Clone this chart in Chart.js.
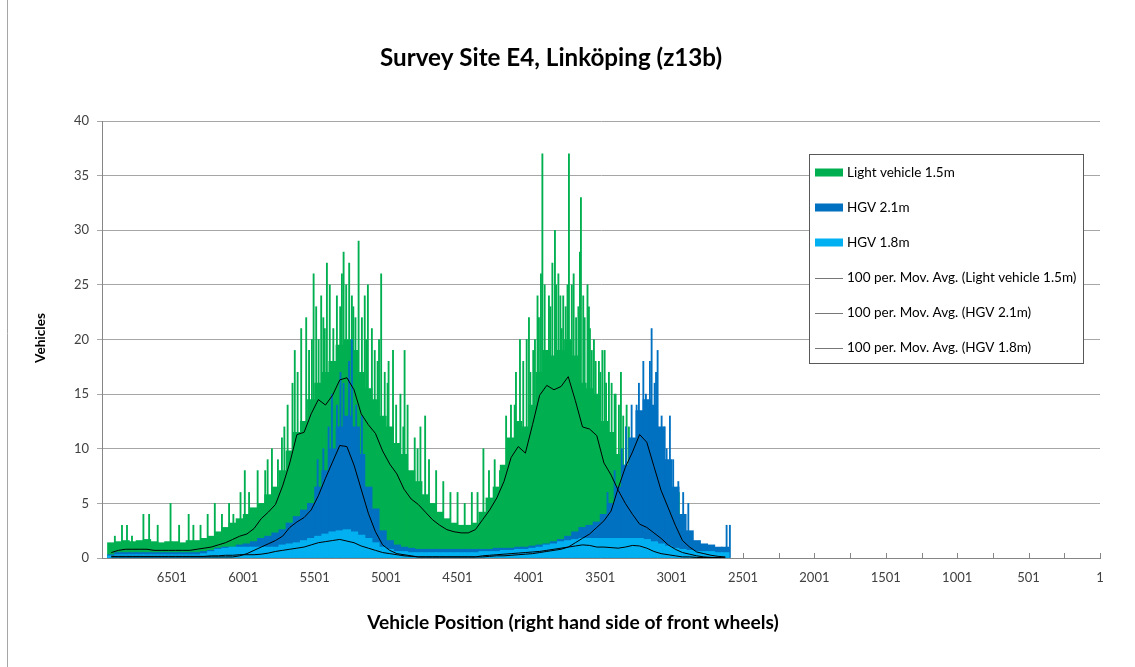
<!DOCTYPE html>
<html>
<head>
<meta charset="utf-8">
<title>Survey Site E4, Linköping (z13b)</title>
<script src="https://cdn.jsdelivr.net/npm/chart.js@4.4.1/dist/chart.umd.min.js"></script>
<style>
  html, body { margin: 0; padding: 0; background: #fff; }
  #wrap { width: 1135px; height: 667px; position: relative; }
</style>
</head>
<body>
<div id="wrap"><canvas id="myChart" width="1135" height="667"></canvas></div>
<script>
// vehicle position, centre of each 50-position bin (axis runs high -> low)
let binPos = [6925, 6875, 6825, 6775, 6725, 6675, 6625, 6575, 6525, 6475,
              6425, 6375, 6325, 6275, 6225, 6175, 6125, 6075, 6025, 5975,
              5925, 5875, 5825, 5775, 5725, 5675, 5625, 5575, 5525, 5475,
              5425, 5375, 5325, 5275, 5225, 5175, 5125, 5075, 5025, 4975,
              4925, 4875, 4825, 4775, 4725, 4675, 4625, 4575, 4525, 4475,
              4425, 4375, 4325, 4275, 4225, 4175, 4125, 4075, 4025, 3975,
              3925, 3875, 3825, 3775, 3725, 3675, 3625, 3575, 3525, 3475,
              3425, 3375, 3325, 3275, 3225, 3175, 3125, 3075, 3025, 2975,
              2925, 2875, 2825, 2775, 2725, 2675, 2625];

// typical vehicle counts per bin
let lightBody = [1.4, 1.5, 1.6, 1.5, 1.6, 1.7, 1.5, 1.4, 1.5, 1.5,
                 1.4, 1.6, 1.6, 1.8, 2.0, 2.4, 2.8, 3.2, 3.6, 4.0,
                 4.6, 5.0, 5.8, 6.5, 8.0, 9.8, 11.5, 12.5, 14.5, 16.0,
                 17.0, 18.0, 19.5, 20.0, 19.0, 17.0, 15.5, 14.5, 13.0, 12.0,
                 10.5, 9.5, 8.0, 7.0, 5.8, 5.0, 4.2, 3.6, 3.2, 3.0,
                 3.0, 3.2, 4.2, 5.5, 6.5, 8.5, 11.0, 12.5, 12.0, 14.0,
                 17.0, 19.0, 18.5, 19.0, 20.0, 18.5, 16.0, 15.5, 15.0, 12.5,
                 11.5, 9.5, 8.5, 7.5, 6.5, 5.5, 4.5, 3.6, 2.8, 2.1,
                 1.5, 1.0, 0.7, 0.5, 0.4, 0.3, 0.3];
let hgv21Body = [0.3, 0.5, 0.5, 0.5, 0.5, 0.5, 0.5, 0.5, 0.5, 0.5,
                 0.5, 0.5, 0.5, 0.6, 0.7, 0.9, 1.0, 1.0, 1.2, 1.3,
                 1.5, 1.8, 2.0, 2.3, 2.6, 3.2, 3.8, 4.4, 5.0, 6.5,
                 8.0, 10.0, 12.0, 13.0, 12.0, 9.5, 6.5, 4.5, 2.5, 1.6,
                 1.2, 1.0, 0.9, 0.8, 0.8, 0.8, 0.8, 0.8, 0.8, 0.8,
                 0.8, 0.8, 0.8, 0.8, 0.9, 0.9, 0.9, 1.0, 1.0, 1.1,
                 1.2, 1.3, 1.5, 1.7, 2.0, 2.4, 2.8, 3.0, 3.3, 4.0,
                 5.0, 6.5, 8.5, 11.0, 13.5, 14.5, 14.0, 12.0, 9.0, 6.5,
                 4.0, 2.5, 1.6, 1.3, 1.2, 1.0, 1.0];
let hgv18Body = [0.2, 0.3, 0.3, 0.3, 0.3, 0.3, 0.3, 0.3, 0.3, 0.3,
                 0.3, 0.3, 0.3, 0.4, 0.6, 0.8, 0.9, 1.0, 1.0, 1.0,
                 1.0, 1.0, 1.0, 1.0, 1.2, 1.3, 1.4, 1.6, 1.8, 2.0,
                 2.2, 2.4, 2.5, 2.6, 2.4, 2.1, 1.8, 1.4, 1.0, 0.8,
                 0.6, 0.6, 0.5, 0.5, 0.5, 0.5, 0.5, 0.5, 0.5, 0.5,
                 0.5, 0.5, 0.6, 0.6, 0.6, 0.7, 0.7, 0.8, 0.8, 0.9,
                 1.0, 1.2, 1.3, 1.5, 1.6, 1.7, 1.8, 1.8, 1.8, 1.8,
                 1.8, 1.8, 1.8, 1.8, 1.8, 1.7, 1.5, 1.3, 1.1, 0.9,
                 0.8, 0.7, 0.6, 0.6, 0.6, 0.5, 0.5];

// 100 period moving averages
let lightAvg = [0.5, 0.7, 0.8, 0.8, 0.8, 0.8, 0.7, 0.7, 0.7, 0.7,
                0.7, 0.7, 0.8, 0.9, 1.0, 1.2, 1.4, 1.7, 2.0, 2.2,
                2.7, 3.6, 4.2, 4.9, 6.6, 8.7, 11.3, 11.5, 13.2, 14.5,
                14.0, 14.9, 16.3, 16.5, 15.4, 13.2, 12.2, 11.4, 9.8, 8.6,
                7.7, 6.3, 5.4, 4.9, 4.2, 3.5, 3.0, 2.6, 2.4, 2.3,
                2.3, 2.6, 3.5, 4.4, 5.5, 7.0, 9.2, 10.2, 9.6, 12.2,
                14.9, 15.8, 15.4, 15.7, 16.6, 14.4, 12.0, 11.8, 11.2, 8.7,
                7.6, 6.2, 5.0, 4.0, 3.1, 2.8, 2.3, 1.8, 1.2, 0.8,
                0.5, 0.35, 0.2, 0.1, 0.05, 0.05, 0];
let hgv21Avg = [0.1, 0.1, 0.1, 0.1, 0.1, 0.1, 0.1, 0.1, 0.1, 0.1,
                0.1, 0.1, 0.1, 0.1, 0.1, 0.1, 0.1, 0.1, 0.2, 0.4,
                0.7, 1.0, 1.3, 1.6, 2.0, 2.8, 3.3, 3.7, 4.4, 5.7,
                7.3, 8.8, 10.3, 10.2, 8.5, 6.3, 4.1, 2.4, 1.2, 0.7,
                0.4, 0.3, 0.2, 0.1, 0.1, 0.1, 0.1, 0.1, 0.1, 0.1,
                0.1, 0.1, 0.1, 0.15, 0.2, 0.2, 0.25, 0.3, 0.35, 0.4,
                0.5, 0.6, 0.7, 0.8, 1.0, 1.4, 1.8, 2.2, 2.8, 3.4,
                4.3, 6.4, 8.3, 9.7, 11.3, 10.6, 8.4, 6.2, 4.6, 3.0,
                1.6, 1.0, 0.55, 0.4, 0.25, 0.15, 0.1];
let hgv18Avg = [0.15, 0.15, 0.15, 0.15, 0.15, 0.15, 0.15, 0.15, 0.15, 0.15,
                0.15, 0.15, 0.15, 0.15, 0.2, 0.2, 0.25, 0.25, 0.3, 0.3,
                0.3, 0.35, 0.45, 0.6, 0.7, 0.8, 0.9, 1.0, 1.2, 1.4,
                1.5, 1.6, 1.7, 1.55, 1.4, 1.1, 0.9, 0.7, 0.5, 0.4,
                0.3, 0.2, 0.15, 0.1, 0.1, 0.1, 0.1, 0.1, 0.1, 0.1,
                0.1, 0.1, 0.2, 0.25, 0.3, 0.35, 0.4, 0.45, 0.5, 0.55,
                0.6, 0.7, 0.8, 0.9, 1.0, 1.1, 1.2, 1.15, 1.0, 1.0,
                0.95, 0.9, 1.0, 1.15, 1.1, 0.9, 0.6, 0.4, 0.3, 0.2,
                0.1, 0.1, 0.05, 0.05, 0.05, 0, 0];

// single positions that stand out above the bulk
let lightSpikePos = [6900, 6850, 6815, 6780, 6700, 6660, 6600, 6510, 6450, 6383,
                     6350, 6300, 6250, 6200, 6150, 6100, 6070, 6020, 5990, 5960,
                     5900, 5847, 5758, 5713, 5656, 5595, 5560, 5540, 5508, 5490,
                     5473, 5440, 5415, 5395, 5370, 5345, 5322, 5298, 5280, 5259,
                     5240, 5215, 5193, 5170, 5150, 5128, 5100, 5080, 5060, 5035,
                     5010, 4983, 4952, 4900, 4871, 4850, 4800, 4760, 4727, 4700,
                     4650, 4600, 4550, 4500, 4450, 4400, 4360, 4319, 4280, 4240,
                     4203, 4160, 4126, 4091, 4063, 4040, 4016, 3990, 3958, 3940,
                     3916, 3906, 3890, 3876, 3860, 3836, 3818, 3810, 3794, 3771,
                     3760, 3743, 3720, 3700, 3687, 3670, 3654, 3643, 3636, 3610,
                     3584, 3580, 3573, 3560, 3533, 3510, 3486, 3460, 3440, 3421,
                     3393, 3356, 3340, 3316, 3300, 2950,
                     5830, 5800, 5730, 5690, 5640, 5620, 5520, 5455, 5430, 5310,
                     5230, 5140, 5050, 4990, 4930, 4880, 4780, 4100, 4000, 3970,
                     3930, 3850, 3780, 3730, 3620, 3590, 3545, 3500, 3470, 3400,
                     3370, 3320];
let lightSpikeVal = [2, 3, 3, 2, 4, 4, 3, 5, 3, 4,
                     3, 3, 4, 5, 4, 5, 4, 6, 8, 6,
                     8, 8, 9, 12, 16, 21, 22, 19, 26, 23,
                     20, 22, 27, 25, 21, 24, 23, 28, 25, 27,
                     24, 22, 29, 22, 24, 25, 21, 19, 18, 26,
                     17, 18, 19, 15, 19, 14, 11, 12, 13, 9,
                     8, 7, 6, 6, 5, 6, 6, 10, 8, 9,
                     8, 13, 14, 17, 20, 18, 20, 17, 20, 24,
                     26, 37, 25, 19, 24, 27, 30, 25, 26, 21,
                     24, 23, 37, 25, 26, 22, 23, 28, 33, 22,
                     20, 23, 21, 19, 18, 18, 19, 16, 17, 16,
                     15, 17, 13, 14, 12, 6,
                     9, 10, 11, 14, 19, 17, 20, 24, 21, 26,
                     23, 20, 20, 16, 14, 12, 10, 14, 22, 19,
                     22, 23, 24, 25, 24, 25, 20, 17, 19, 15,
                     14, 12];
let hgv21SpikePos = [5480, 5440, 5403, 5380, 5345, 5320, 5298, 5260, 5240, 5210,
                     5190, 5170, 3450, 3400, 3350, 3320, 3281, 3246, 3230, 3199,
                     3181, 3153, 3141, 3120, 3110, 3099, 3071, 3050, 3036, 3013,
                     2990, 2954, 2920, 2884, 2616, 2593];
let hgv21SpikeVal = [9, 10, 12, 15, 14, 17, 16, 18, 20, 14,
                     12, 13, 6, 8, 10, 12, 14, 14, 16, 18,
                     15, 18, 21, 16, 17, 19, 13, 12, 10, 13,
                     9, 7, 6, 5, 3, 3];

let xTickLabels = [6501, 6001, 5501, 5001, 4501, 4001, 3501, 3001, 2501, 2001, 1501, 1001, 501, 1];
let minorTicks = [];
for (let v = 1; v <= 6990; v += 250) minorTicks.push(v);

let titleText = 'Survey Site E4, Linköping (z13b)';
let xTitle = 'Vehicle Position (right hand side of front wheels)';
let yTitle = 'Vehicles';

const FONT = 'Lato, "Open Sans", sans-serif';
const GREEN = '#00B050', DARK = '#0070C0', LIGHT = '#00B0F0';

function pts(pos, vals) {
    return pos.map((p, i) => ({ x: p, y: vals[i] }));
}

function fitFont(ctx, text, weight, width) {
    ctx.font = weight + ' 100px ' + FONT;
    return Math.round(1000 * width / ctx.measureText(text).width) / 10;
}

// x-axis minor ticks, titles, frame and the boxed legend
const decorations = {
    id: 'decorations',
    beforeDatasetsDraw(chart) {
        const { ctx, chartArea } = chart;
        const x = chart.scales.x;
        ctx.save();
        ctx.strokeStyle = '#868686';
        ctx.lineWidth = 1;
        ctx.beginPath();
        minorTicks.forEach(v => {
            const px = Math.round(x.getPixelForValue(v)) + 0.5;
            ctx.moveTo(px, chartArea.bottom);
            ctx.lineTo(px, chartArea.bottom - 5);
        });
        ctx.stroke();
        ctx.restore();
    },
    afterDraw(chart) {
        const ctx = chart.ctx;
        ctx.save();
        ctx.strokeStyle = '#A6A6A6';
        ctx.lineWidth = 1;
        ctx.beginPath();
        ctx.moveTo(7.5, 0);
        ctx.lineTo(7.5, chart.height);
        ctx.stroke();

        ctx.fillStyle = '#000';
        ctx.textAlign = 'center';
        ctx.textBaseline = 'middle';
        let s = fitFont(ctx, titleText, 'bold', 342);
        ctx.font = 'bold ' + s + 'px ' + FONT;
        ctx.fillText(titleText, 551, 58);

        s = fitFont(ctx, xTitle, 'bold', 412);
        ctx.font = 'bold ' + s + 'px ' + FONT;
        ctx.fillText(xTitle, 573, 623);

        s = fitFont(ctx, yTitle, 'bold', 50);
        ctx.font = 'bold ' + s + 'px ' + FONT;
        ctx.translate(41, 338);
        ctx.rotate(-Math.PI / 2);
        ctx.fillText(yTitle, 0, 0);
        ctx.restore();

        // legend
        ctx.save();
        ctx.fillStyle = '#fff';
        ctx.fillRect(809.5, 154.5, 274, 209);
        ctx.strokeStyle = '#595959';
        ctx.lineWidth = 1;
        ctx.strokeRect(809.5, 154.5, 274, 209);
        const items = chart.data.datasets.filter(d => d.legendRank);
        items.sort((a, b) => a.legendRank - b.legendRank);
        s = fitFont(ctx, items[3].label, 'normal', 230);
        ctx.font = s + 'px ' + FONT;
        ctx.textAlign = 'left';
        ctx.textBaseline = 'middle';
        items.forEach((d, i) => {
            const y = 172.5 + i * 35;
            if (d.type === 'bar') {
                ctx.fillStyle = d.backgroundColor;
                ctx.fillRect(815, y - 4, 28, 8);
            } else {
                ctx.strokeStyle = '#777';
                ctx.beginPath();
                ctx.moveTo(815, Math.round(y) + 0.5);
                ctx.lineTo(843, Math.round(y) + 0.5);
                ctx.stroke();
            }
            ctx.fillStyle = '#000';
            ctx.fillText(d.label, 847, y);
        });
        ctx.restore();
    }
};

const ctx = document.getElementById('myChart').getContext('2d');

const chart = new Chart(ctx, {
    type: 'bar',
    data: {
        datasets: [
            { type: 'line', label: '100 per. Mov. Avg. (Light vehicle 1.5m)', legendRank: 4,
              data: pts(binPos, lightAvg), borderColor: '#000', borderWidth: 1, pointRadius: 0, order: 0 },
            { type: 'line', label: '100 per. Mov. Avg. (HGV 2.1m)', legendRank: 5,
              data: pts(binPos, hgv21Avg), borderColor: '#000', borderWidth: 1, pointRadius: 0, order: 0 },
            { type: 'line', label: '100 per. Mov. Avg. (HGV 1.8m)', legendRank: 6,
              data: pts(binPos, hgv18Avg), borderColor: '#000', borderWidth: 1, pointRadius: 0, order: 0 },
            { type: 'bar', label: 'HGV 1.8m', legendRank: 3, data: pts(binPos, hgv18Body),
              backgroundColor: LIGHT, barThickness: 7.6, grouped: false, order: 1 },
            { type: 'bar', label: 'HGV 2.1m', legendRank: 2, data: pts(binPos, hgv21Body),
              backgroundColor: DARK, barThickness: 7.6, grouped: false, order: 2 },
            { type: 'bar', label: 'HGV 2.1m peaks', data: pts(hgv21SpikePos, hgv21SpikeVal),
              backgroundColor: DARK, barThickness: 1.2, grouped: false, order: 2 },
            { type: 'bar', label: 'Light vehicle 1.5m', legendRank: 1, data: pts(binPos, lightBody),
              backgroundColor: GREEN, barThickness: 7.6, grouped: false, order: 3 },
            { type: 'bar', label: 'Light vehicle 1.5m peaks', data: pts(lightSpikePos, lightSpikeVal),
              backgroundColor: GREEN, barThickness: 1.2, grouped: false, order: 3 }
        ]
    },
    options: {
        responsive: false,
        animation: false,
        layout: { padding: { top: 121, right: 35, left: 0, bottom: 0 } },
        plugins: {
            legend: { display: false },
            title: { display: false },
            tooltip: { enabled: false }
        },
        scales: {
            x: {
                type: 'linear',
                reverse: true,
                min: 1,
                max: 6990,
                offset: false,
                afterBuildTicks: s => { s.ticks = xTickLabels.map(v => ({ value: v })); },
                afterFit: s => { s.height = 109; },
                grid: { display: true, drawOnChartArea: false, drawTicks: false, offset: false },
                border: { display: true, color: '#868686' },
                ticks: {
                    autoSkip: false, maxRotation: 0, padding: 12, color: '#404040',
                    font: { family: FONT, size: 13 },
                    callback: v => String(v)
                }
            },
            y: {
                min: 0,
                max: 40,
                afterFit: s => { s.width = 102; },
                grid: { color: '#A6A6A6', tickLength: 5 },
                border: { display: true, color: '#868686' },
                ticks: { stepSize: 5, padding: 8, color: '#404040', font: { family: FONT, size: 13 } }
            }
        }
    },
    plugins: [decorations]
});
</script>
</body>
</html>
